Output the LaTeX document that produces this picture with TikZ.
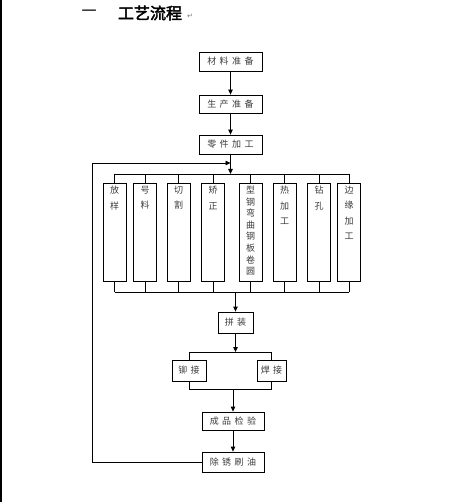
\documentclass[tikz,border=0pt]{standalone}
\usepackage{fontspec}
\newfontfamily\cjk[AutoFakeBold=2.5]{Noto Sans CJK SC}
\newfontfamily\dejavu{DejaVu Sans}
\usetikzlibrary{arrows.meta}
\newcommand\gp{\hspace{3.5pt}}
\newcommand\vcol[3]{\parbox[t][92pt][t]{14pt}{\centering\fontsize{#1}{#2}\selectfont #3}}
\definecolor{txt}{RGB}{60,60,60}
\tikzset{
  box/.style={draw=black, line width=0.8pt, inner sep=0pt, text=txt,
    font=\cjk\fontsize{9}{11}\selectfont},
  vbox/.style={box, minimum width=23pt, minimum height=98pt},
  ln/.style={line width=0.8pt},
  arr/.style={ln, -{Triangle[length=5pt,width=4.5pt]}},
}
\begin{document}
\begin{tikzpicture}[x=1pt,y=-1pt]
\useasboundingbox (0,0) rectangle (462,502);
\fill[white] (0,0) rectangle (462,502);
\draw[line width=2pt] (1,0) -- (1,502);
% title
\node[inner sep=0pt, font=\cjk\fontsize{15}{15}\selectfont] (n1) at (89,13) {一};
\node[inner sep=0pt, font=\cjk\bfseries\fontsize{16}{16}\selectfont] (ttl) at (150,13) {工艺流程};
\node[inner sep=0pt, text={rgb,255:red,110;green,120;blue,150}, font=\dejavu\fontsize{7}{7}\selectfont] (ret) at (190,16) {↵};
% top boxes
\node[box, minimum width=63pt, minimum height=19pt] (m1) at (230.5,61.5) {材\gp{}料\gp{}准\gp{}备};
\node[box, minimum width=63pt, minimum height=18pt] (m2) at (230.5,104) {生\gp{}产\gp{}准\gp{}备};
\node[box, minimum width=63pt, minimum height=19pt] (m3) at (230.5,144.5) {零\gp{}件\gp{}加\gp{}工};
\draw[arr] (m1.south) -- (m2.north);
\draw[arr] (m2.south) -- (m3.north);
% vertical boxes
\node[vbox] (v1) at (114.5,232) {\vcol{9}{15.5}{放\\样}};
\node[vbox] (v2) at (145,232) {\vcol{9}{15.5}{号\\料}};
\node[vbox] (v3) at (178.5,232) {\vcol{9}{15.5}{切\\割}};
\node[vbox] (v4) at (213,232) {\vcol{9}{15.5}{矫\\正}};
\node[vbox] (v5) at (250.5,232) {\vcol{9}{11.6}{型\\钢\\弯\\曲\\钢\\板\\卷\\圆}};
\node[vbox] (v6) at (284.5,232) {\vcol{9}{15.5}{热\\加\\工}};
\node[vbox] (v7) at (319,232) {\vcol{9}{15.5}{钻\\孔}};
\node[vbox] (v8) at (349,232) {\vcol{9}{15.5}{边\\缘\\加\\工}};
\coordinate (t1) at (0,174);
\coordinate (t2) at (0,292);
\draw[arr] (m3.south) -- (m3.south |- t1);
\draw[ln] (v1.north |- t1) -- (v8.north |- t1);
\draw[ln] (v1.south |- t2) -- (v8.south |- t2);
\foreach \v in {v1,v2,v3,v4,v5,v6,v7,v8}{
  \draw[ln] (\v.north) -- (\v.north |- t1);
  \draw[ln] (\v.south) -- (\v.south |- t2);
}
% assembly
\node[box, minimum width=35pt, minimum height=21pt] (pz) at (235.5,322.5) {拼\gp{}装};
\draw[arr] (pz.north |- t2) -- (pz.north);
\node[box, minimum width=34pt, minimum height=21pt] (mj) at (189,370.5) {铆\gp{}接};
\node[box, minimum width=29pt, minimum height=21pt] (hj) at (271.5,370.5) {焊\gp{}接};
\coordinate (t3) at (0,352);
\coordinate (t4) at (0,389);
\draw[arr] (pz.south) -- (pz.south |- t3);
\draw[ln] (mj.north |- t3) -- (hj.north |- t3);
\draw[ln] (mj.north) -- (mj.north |- t3);
\draw[ln] (hj.north) -- (hj.north |- t3);
\draw[ln] (mj.south |- t4) -- (hj.south |- t4);
\draw[ln] (mj.south) -- (mj.south |- t4);
\draw[ln] (hj.south) -- (hj.south |- t4);
% finishing
\node[box, minimum width=62pt, minimum height=18pt] (cp) at (233,421) {成\gp{}品\gp{}检\gp{}验};
\node[box, minimum width=62pt, minimum height=20pt] (cy) at (233,462) {除\gp{}锈\gp{}刷\gp{}油};
\draw[arr] (cp.north |- t4) -- (cp.north);
\draw[arr] (cp.south) -- (cy.north);
% return loop
\coordinate (r1) at (92,462);
\coordinate (r2) at (92,163);
\draw[arr] (cy.west) -- (r1) -- (r2) -- (m3.south |- r2);
\end{tikzpicture}
\end{document}
